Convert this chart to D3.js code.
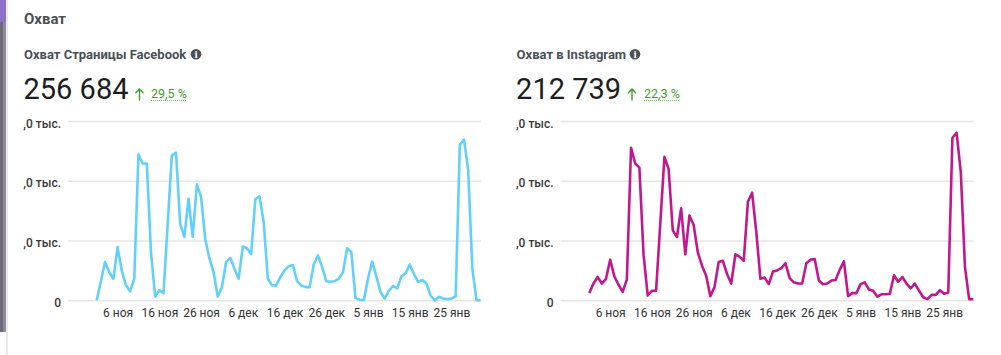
<!DOCTYPE html>
<html><head><meta charset="utf-8">
<script src="https://cdn.jsdelivr.net/npm/d3@7"></script>
<style>
html,body{margin:0;padding:0;background:#fff;}
svg{display:block;font-family:Roboto,"Helvetica Neue",Arial,sans-serif;}
</style></head>
<body>
<svg id="c" width="1001" height="355"></svg>
<script>
// ---- data ----
const startDate = "2020-11-01";
const tickDates = ["2020-11-06","2020-11-16","2020-11-26","2020-12-06","2020-12-16","2020-12-26","2021-01-05","2021-01-15","2021-01-25"];
const xTickLabels = ["6 ноя","16 ноя","26 ноя","6 дек","16 дек","26 дек","5 янв","15 янв","25 янв"];
const yTickValues = [0,1,2,3];
const yTickLabels = ["0",",0 тыс.",",0 тыс.",",0 тыс."];

const facebookReach = [0,0.32,0.64,0.47,0.36,0.89,0.5,0.25,0.15,0.36,
  2.44,2.29,2.29,0.81,0.06,0.17,0.12,1.27,2.42,2.47,
  1.28,1.06,1.7,1.06,1.94,1.73,1.03,0.70,0.47,0.06,
  0.22,0.64,0.71,0.53,0.36,0.9,0.87,0.77,1.69,1.74,
  1.31,0.36,0.25,0.25,0.39,0.5,0.57,0.59,0.32,0.25,
  0.22,0.22,0.6,0.75,0.56,0.32,0.31,0.32,0.36,0.47,
  0.87,0.81,0.04,0.01,0,0.36,0.65,0.4,0.14,0.03,
  0.16,0.24,0.2,0.4,0.45,0.6,0.44,0.31,0.34,0.28,
  0.08,0,0.06,0.03,0.02,0.03,0.07,2.6,2.69,2.18,
  0.53,0,0];
const instagramReach = [0.12,0.28,0.39,0.28,0.36,0.68,0.4,0.26,0.14,0.35,
  2.55,2.29,2.22,0.76,0.08,0.16,0.16,1.28,2.4,2.2,
  1.17,1.06,1.54,0.77,1.42,1.26,0.8,0.58,0.41,0.07,
  0.22,0.64,0.66,0.44,0.28,0.77,0.73,0.66,1.65,1.8,
  1.15,0.36,0.38,0.27,0.48,0.5,0.54,0.62,0.37,0.3,
  0.28,0.28,0.62,0.68,0.69,0.33,0.27,0.28,0.33,0.34,
  0.51,0.65,0.07,0.12,0.12,0.27,0.3,0.18,0.16,0.06,
  0.1,0.1,0.11,0.42,0.31,0.39,0.28,0.2,0.28,0.16,
  0.05,0.02,0.09,0.09,0.17,0.11,0.13,2.72,2.8,2.15,
  0.56,0.02,0.02];

const panels = [
  {title:"Охват Страницы Facebook", total:"256 684", change:"29,5 %", values:facebookReach, color:"#62d0fb", ox:0, iconX:196, arrowX:139.5, pctX:151},
  {title:"Охват в Instagram", total:"212 739", change:"22,3 %", values:instagramReach, color:"#c2188e", ox:492.6, iconX:635, arrowX:632, pctX:644}
];

// ---- drawing ----
const svg = d3.select("#c");
const parse = d3.timeParse("%Y-%m-%d");
const d0 = parse(startDate);

// left window strip (screenshot edge)
svg.append("rect").attr("x",0).attr("y",0).attr("width",6).attr("height",332).attr("fill","#8f8f93");
svg.append("rect").attr("x",0).attr("y",0).attr("width",3).attr("height",332).attr("fill","#6f6a7c");
svg.append("rect").attr("x",0).attr("y",0).attr("width",6).attr("height",22).attr("fill","#8c72c9");
svg.append("line").attr("x1",7).attr("x2",7).attr("y1",0).attr("y2",355).attr("stroke","#d8d8d8");

svg.append("text").attr("x",24).attr("y",24).text("Охват")
  .attr("font-size",15).attr("font-weight",700).attr("fill","#4b4f56");

panels.forEach(p => {
  const g = svg.append("g").attr("transform",`translate(${p.ox},0)`);
  g.append("text").attr("x",24).attr("y",59).text(p.title)
    .attr("font-size",13).attr("font-weight",700).attr("fill","#4b4f56");
  const ic = g.append("g").attr("transform",`translate(${p.iconX - p.ox},54.3)`);
  ic.append("circle").attr("r",5.3).attr("fill","#4b4f56");
  ic.append("text").attr("y",3.3).attr("text-anchor","middle").attr("font-size",8.5)
    .attr("font-weight",700).attr("fill","#fff").attr("font-family","DejaVu Serif, serif").text("i");

  g.append("text").attr("x",23.5).attr("y",99).text(p.total)
    .attr("font-size",29).attr("fill","#1c1e21");
  const ax = p.arrowX - p.ox;
  g.append("path").attr("d",`M${ax},100 L${ax},89 M${ax-3.6},92.8 L${ax},89 L${ax+3.6},92.8`)
    .attr("fill","none").attr("stroke","#42a02a").attr("stroke-width",1.4).attr("stroke-linecap","round").attr("stroke-linejoin","round");
  const pt = g.append("text").attr("x",p.pctX - p.ox).attr("y",98).text(p.change)
    .attr("font-size",12.5).attr("fill","#42a02a");
  const w = pt.node().getComputedTextLength();
  g.append("line").attr("x1",p.pctX - p.ox).attr("x2",p.pctX - p.ox + w).attr("y1",100.5).attr("y2",100.5)
    .attr("stroke","#7cc46a").attr("stroke-width",1).attr("stroke-dasharray","1,1");

  const dates = p.values.map((v,i)=>d3.timeDay.offset(d0,i));
  const x = d3.scaleTime().domain([dates[0], dates[dates.length-1]]).range([96.7, 480.7]);
  const y = d3.scaleLinear().domain([0,3]).range([300.3, 121]);

  const gridLeft = 68, gridRight = 481;
  const ya = d3.axisLeft(y).tickValues(yTickValues).tickSize(-(gridRight-gridLeft)).tickPadding(7)
    .tickFormat((d,i)=>yTickLabels[i]);
  const yg = g.append("g").attr("transform",`translate(${gridLeft},0)`).call(ya);
  yg.select(".domain").remove();
  yg.selectAll(".tick line").attr("stroke","#e6e6e6").attr("stroke-width",1.5);
  yg.selectAll(".tick text").attr("font-size",12).attr("font-family","Roboto, Arial, sans-serif")
    .attr("fill","#3a3a3a").attr("font-weight",500).attr("dy","0.5em");

  const xa = d3.axisBottom(x).tickValues(tickDates.map(parse)).tickSize(0).tickPadding(8.5)
    .tickFormat((d,i)=>xTickLabels[i]);
  const xg = g.append("g").attr("transform","translate(0,300.3)").call(xa);
  xg.select(".domain").remove();
  xg.selectAll(".tick text").attr("font-size",12).attr("font-family","Roboto, Arial, sans-serif")
    .attr("fill","#333");

  const line = d3.line().x((d,i)=>x(dates[i])).y(d=>y(d));
  g.append("path").datum(p.values).attr("d",line).attr("fill","none")
    .attr("stroke",p.color).attr("stroke-width",2.6).attr("stroke-linejoin","round");
});
</script>
</body></html>
